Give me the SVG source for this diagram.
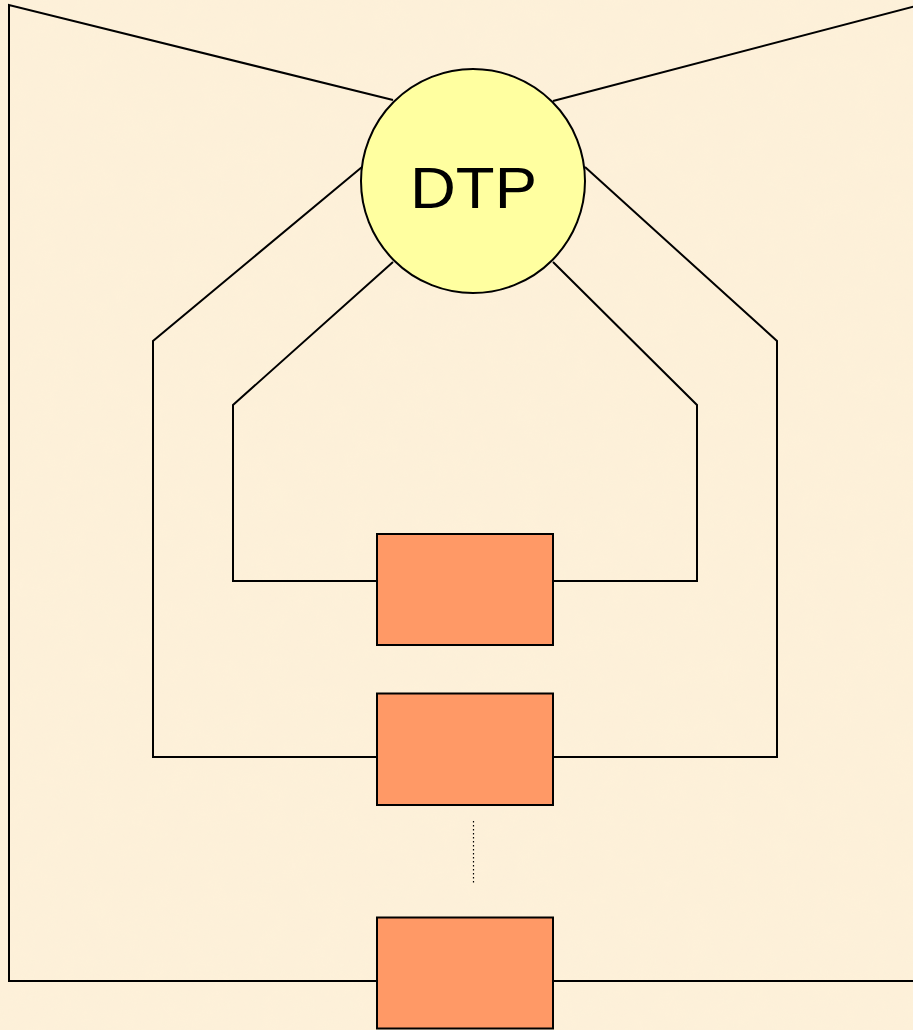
<svg xmlns="http://www.w3.org/2000/svg" width="913" height="1030" viewBox="0 0 913 1030">
  <defs>
    <style>
      .wire { fill: none; stroke: #000; stroke-width: 2; stroke-linejoin: miter; }
      .dots { fill: none; stroke: #000; stroke-width: 1.2; stroke-dasharray: 1.5 2.5; }
      .unit { fill: #ff9966; stroke: #000; stroke-width: 2; }
      .hub { fill: #ffffa0; stroke: #000; stroke-width: 2; }
      .hub-label { font-family: "Liberation Sans", Arial, sans-serif; font-size: 58px; fill: #000; }
    </style>
    <!-- faint parchment mottling -->
    <filter id="paper" x="0" y="0" width="100%" height="100%">
      <feTurbulence type="fractalNoise" baseFrequency="0.035" numOctaves="3" seed="7" result="n"/>
      <feColorMatrix in="n" type="matrix"
        values="0 0 0 0 0.98
                0 0 0 0 0.90
                0 0 0 0 0.70
                0 0 0 0.35 0"/>
    </filter>
  </defs>

  <rect width="913" height="1030" fill="#fdf0d9"/>
  <rect width="913" height="1030" filter="url(#paper)" opacity="0.5"/>

  <g id="connectors">
    <!-- outermost loop: left side -->
    <polyline class="wire" points="393,100 9,5 9,981 377,981"/>
    <!-- outermost loop: right side (runs past the edge) -->
    <polyline class="wire" points="553,101 920,5 920,981 553,981"/>
    <!-- second loop -->
    <polyline class="wire" points="362,167 153,341 153,757 377,757"/>
    <polyline class="wire" points="585,167 777,341 777,757 553,757"/>
    <!-- inner loop -->
    <polyline class="wire" points="393,262 233,405 233,581 377,581"/>
    <polyline class="wire" points="553,262 697,405 697,581 553,581"/>
    <!-- continuation marker -->
    <line class="dots" x1="473.5" y1="821" x2="473.5" y2="883"/>
  </g>

  <g id="hub">
    <circle class="hub" cx="473" cy="181" r="112"/>
    <text class="hub-label" x="473.5" y="208" text-anchor="middle" textLength="127" lengthAdjust="spacingAndGlyphs">DTP</text>
  </g>

  <g id="unit-1">
    <rect class="unit" x="377" y="534" width="176" height="111"/>
  </g>
  <g id="unit-2">
    <rect class="unit" x="377" y="693.5" width="176" height="111.5"/>
  </g>
  <g id="unit-n">
    <rect class="unit" x="377" y="917.5" width="176" height="111"/>
  </g>
</svg>
